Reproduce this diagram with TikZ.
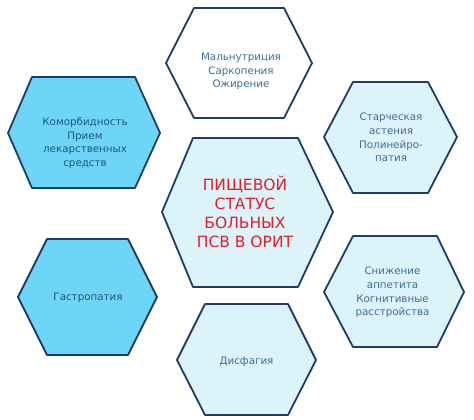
\documentclass[tikz,border=0pt]{standalone}
\usepackage{fontspec}
\setmainfont{DejaVu Sans}
\definecolor{edge}{HTML}{1E3C68}
\definecolor{lightfill}{HTML}{DDF3FA}
\definecolor{brightfill}{HTML}{6DD5F5}
\definecolor{txtlight}{HTML}{3C6E98}
\definecolor{txtbright}{HTML}{1F5580}
\definecolor{txtred}{HTML}{E41E26}
\tikzset{
  hexline/.style={draw=edge, line width=1.8pt, line join=round},
  smalltxt/.style={align=center, inner sep=0pt, font=\fontsize{10.3}{13.8}\selectfont},
  bigtxt/.style={align=center, inner sep=0pt, text=txtred, font=\fontsize{15.5}{19}\selectfont},
}
\begin{document}
\begin{tikzpicture}[x=1pt,y=-1pt]
\useasboundingbox (0,0) rectangle (474,420);
\fill[white] (0,0) rectangle (474,420);
% hexagons
\draw[hexline, fill=white] (166,63) -- (194,8) -- (284,8) -- (312,63) -- (284,118) -- (194,118) -- cycle;
\draw[hexline, fill=brightfill] (8,133) -- (32,77) -- (135,77) -- (160,133) -- (135,188) -- (32,188) -- cycle;
\draw[hexline, fill=lightfill] (324,137) -- (353,82) -- (428,82) -- (457,137) -- (428,193) -- (353,193) -- cycle;
\draw[hexline, fill=lightfill] (162,212) -- (193,138) -- (298,138) -- (333,212) -- (298,287) -- (193,287) -- cycle;
\draw[hexline, fill=brightfill] (18,297) -- (47,239) -- (128,239) -- (157,297) -- (128,355) -- (47,355) -- cycle;
\draw[hexline, fill=lightfill] (324,292) -- (353,236) -- (437,236) -- (464,292) -- (437,347) -- (353,347) -- cycle;
\draw[hexline, fill=lightfill] (177,360) -- (205,304) -- (288,304) -- (316,360) -- (288,415) -- (205,415) -- cycle;
% texts
\node[smalltxt, text=txtlight] (top) at (241,71.5) {Мальнутриция\\Саркопения\\Ожирение};
\node[smalltxt, text=txtbright] (lt) at (85,143) {Коморбидность\\Прием\\лекарственных\\средств};
\node[smalltxt, text=txtlight] (rt) at (391,137.5) {Старческая\\астения\\Полинейро-\\патия};
\node[bigtxt] (center) at (245,211.5) {ПИЩЕВОЙ\\СТАТУС\\БОЛЬНЫХ\\ПСВ В ОРИТ};
\node[smalltxt, text=txtbright] (lb) at (88,298) {Гастропатия};
\node[smalltxt, text=txtlight] (rb) at (392.5,292.5) {Снижение\\аппетита\\Когнитивные\\расстройства};
\node[smalltxt, text=txtlight] (bot) at (246.5,362) {Дисфагия};
\end{tikzpicture}
\end{document}
